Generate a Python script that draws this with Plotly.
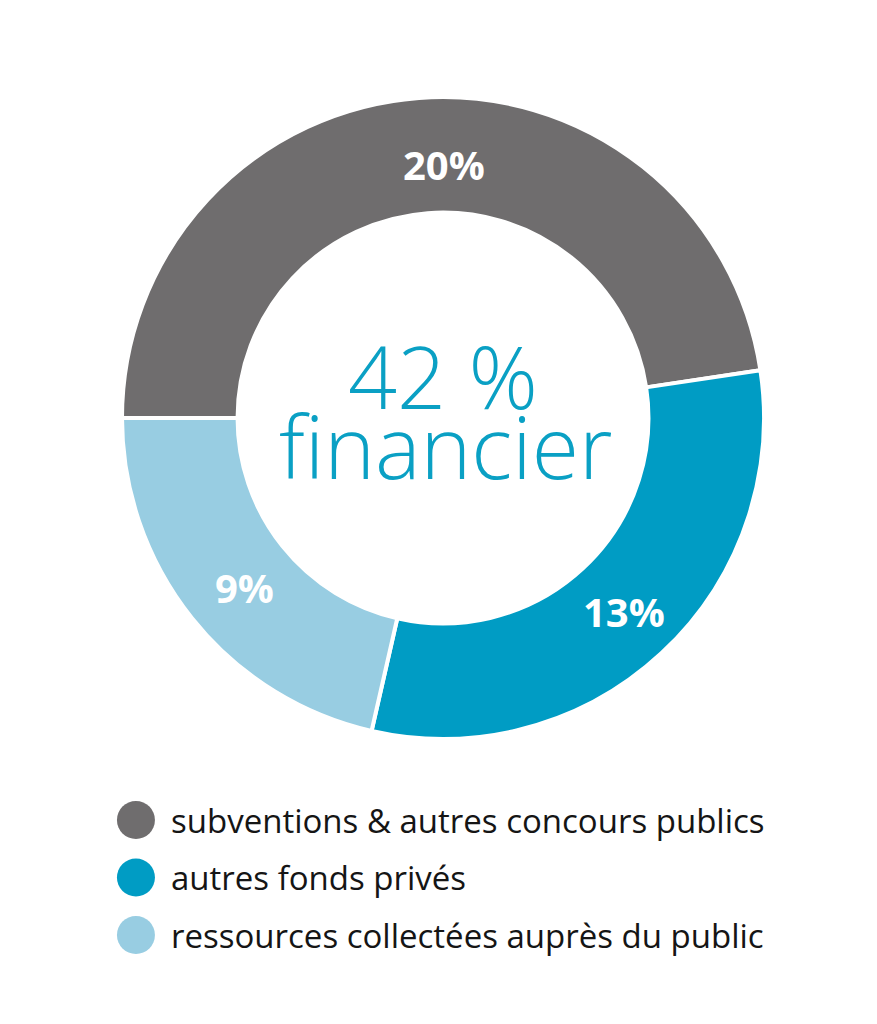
import plotly.graph_objects as go

# Répartition des ressources financières
categories = [
    "subventions & autres concours publics",
    "autres fonds privés",
    "ressources collectées auprès du public",
]
values = [20, 13, 9]
colors = ["#6f6d6e", "#009cc4", "#98cde2"]
total_label = ["42 %", "financier"]

W, H = 877, 1024
FONT = "Open Sans"

fig = go.Figure()

fig.add_trace(go.Pie(
    labels=categories,
    values=values,
    sort=False,
    direction="clockwise",
    rotation=-90,
    hole=0.64,
    marker=dict(colors=colors, line=dict(color="white", width=4)),
    textinfo="none",
    domain=dict(x=[122 / W, 764 / W], y=[1 - 739 / H, 1 - 97 / H]),
    showlegend=False,
    hoverinfo="label+value",
))

annotations = []

# Pourcentages sur l'anneau
label_pos = [(444, 164), (624, 611), (244, 587)]
for v, (px, py) in zip(values, label_pos):
    annotations.append(dict(
        x=px / W, y=1 - py / H, xref="paper", yref="paper",
        text=f"{v}%", showarrow=False, xanchor="center", yanchor="middle",
        font=dict(family=FONT, size=40, color="white", weight="bold"),
    ))

# Légende : pastilles rondes + libellés
rows = list(range(len(categories)))
fig.add_trace(go.Scatter(
    x=[0.155] * len(rows),
    y=rows,
    mode="markers",
    marker=dict(size=38, color=colors, line=dict(width=0)),
    xaxis="x2", yaxis="y2",
    showlegend=False,
    hoverinfo="skip",
))

for i, cat in zip(rows, categories):
    annotations.append(dict(
        x=0.193, y=i, xref="x2", yref="y2",
        text=cat, showarrow=False, xanchor="left", yanchor="middle",
        font=dict(family=FONT, size=33, color="#151515"),
    ))

# Texte central
annotations.append(dict(
    x=443 / W, y=1 - 375 / H, xref="paper", yref="paper",
    text=total_label[0], showarrow=False, xanchor="center", yanchor="middle",
    font=dict(family=FONT, size=86, color="#0aa0c4", weight=300),
))
annotations.append(dict(
    x=445 / W, y=1 - 445 / H, xref="paper", yref="paper",
    text=total_label[1], showarrow=False, xanchor="center", yanchor="middle",
    font=dict(family=FONT, size=86, color="#0aa0c4", weight=300),
))

row_px = 57.5
fig.update_layout(
    width=W, height=H,
    margin=dict(l=0, r=0, t=0, b=0),
    paper_bgcolor="white",
    plot_bgcolor="white",
    xaxis2=dict(domain=[0, 1], range=[0, 1], visible=False, fixedrange=True),
    yaxis2=dict(domain=[0, 1], range=[(H - 820) / row_px, -820 / row_px],
                visible=False, fixedrange=True, anchor="x2"),
    annotations=annotations,
)

fig.write_html("out.html")
